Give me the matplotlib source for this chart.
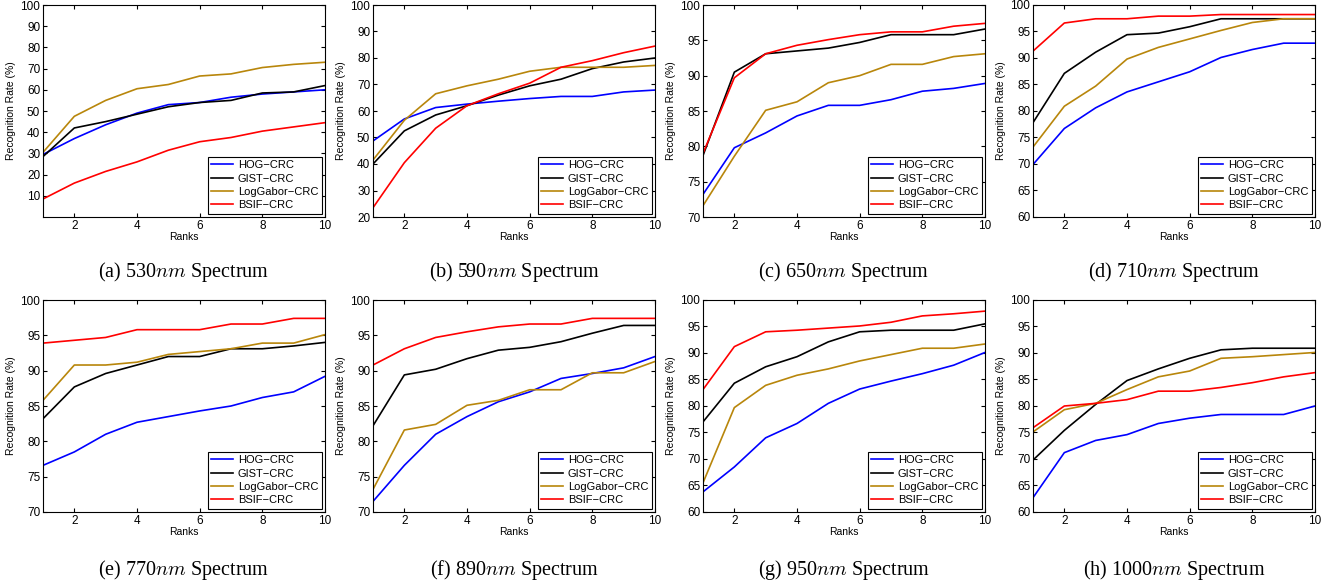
#!/usr/bin/env python3
"""CMC curves (recognition rate vs rank) for eight spectral bands."""
import matplotlib
matplotlib.use("Agg")
import matplotlib.pyplot as plt

plt.rcParams.update({
    "font.family": "Liberation Sans", "font.size": 8.5,
    "xtick.direction": "in", "ytick.direction": "in",
    "xtick.top": True, "ytick.right": True,
    "xtick.major.size": 3, "ytick.major.size": 3,
    "axes.linewidth": 0.8, "mathtext.fontset": "cm",
})

ranks = [1, 2, 3, 4, 5, 6, 7, 8, 9, 10]
methods = ["HOG\u2212CRC", "GIST\u2212CRC", "LogGabor\u2212CRC", "BSIF\u2212CRC"]
colors = ["#0000ff", "#000000", "#b8860b", "#ff0000"]

captions = ["(a) 530$nm$ Spectrum", "(b) 590$nm$ Spectrum", "(c) 650$nm$ Spectrum",
            "(d) 710$nm$ Spectrum", "(e) 770$nm$ Spectrum", "(f) 890$nm$ Spectrum",
            "(g) 950$nm$ Spectrum", "(h) 1000$nm$ Spectrum"]
ylims = [(0, 100), (20, 100), (70, 100), (60, 100),
         (70, 100), (70, 100), (60, 100), (60, 100)]
ysteps = [10, 10, 5, 5, 5, 5, 5, 5]

# one list per method, per spectrum
hog_530 = [29.5, 37, 43.5, 49, 53, 54, 56.5, 58, 59, 60]
gist_530 = [28.5, 42, 45, 48.5, 52, 54, 55, 58.5, 59, 62]
lg_530 = [30.5, 47.5, 55, 60.5, 62.5, 66.5, 67.5, 70.5, 72, 73]
bsif_530 = [8.5, 16, 21.5, 26, 31.5, 35.5, 37.5, 40.5, 42.5, 44.5]

hog_590 = [48.7, 57, 61.3, 62.6, 63.7, 64.7, 65.5, 65.5, 67.2, 67.9]
gist_590 = [40, 52.5, 58.5, 62, 66, 69.5, 72, 76, 78.5, 80]
lg_590 = [41.5, 56.5, 66.5, 69.5, 72, 75, 76.5, 76.5, 76.5, 77.2]
bsif_590 = [23.5, 40.5, 53.5, 62, 66.5, 70.5, 76.5, 79, 82, 84.5]

hog_650 = [73.2, 79.8, 81.9, 84.3, 85.8, 85.8, 86.6, 87.8, 88.2, 88.9]
gist_650 = [78.7, 90.5, 93.1, 93.5, 93.9, 94.7, 95.8, 95.8, 95.8, 96.6]
lg_650 = [71.6, 78.6, 85.1, 86.3, 89.0, 90.0, 91.6, 91.6, 92.7, 93.1]
bsif_650 = [79.0, 89.7, 93.1, 94.3, 95.1, 95.8, 96.2, 96.2, 97.0, 97.4]

hog_710 = [69.9, 76.7, 80.6, 83.6, 85.5, 87.4, 90.1, 91.6, 92.8, 92.8]
gist_710 = [77.8, 87.1, 91.1, 94.4, 94.7, 95.9, 97.4, 97.4, 97.4, 97.4]
lg_710 = [73.2, 80.9, 84.7, 89.8, 92.0, 93.6, 95.2, 96.7, 97.4, 97.4]
bsif_710 = [91.3, 96.6, 97.4, 97.4, 97.9, 97.9, 98.2, 98.2, 98.2, 98.2]

hog_770 = [76.6, 78.5, 81.0, 82.7, 83.5, 84.3, 85.0, 86.2, 87.0, 89.2]
gist_770 = [83.2, 87.7, 89.6, 90.8, 92.0, 92.0, 93.1, 93.1, 93.5, 94.0]
lg_770 = [85.8, 90.8, 90.8, 91.2, 92.3, 92.7, 93.1, 93.9, 93.9, 95.1]
bsif_770 = [93.9, 94.3, 94.7, 95.8, 95.8, 95.8, 96.6, 96.6, 97.4, 97.4]

hog_890 = [71.5, 76.6, 81.0, 83.5, 85.6, 87.0, 88.9, 89.6, 90.4, 92.0]
gist_890 = [82.2, 89.4, 90.2, 91.7, 92.9, 93.3, 94.1, 95.3, 96.4, 96.4]
lg_890 = [73.2, 81.6, 82.4, 85.1, 85.8, 87.3, 87.3, 89.7, 89.7, 91.3]
bsif_890 = [90.8, 93.1, 94.7, 95.5, 96.2, 96.6, 96.6, 97.4, 97.4, 97.4]

hog_950 = [63.8, 68.5, 74.0, 76.7, 80.5, 83.2, 84.7, 86.1, 87.7, 90.1]
gist_950 = [77.0, 84.3, 87.4, 89.3, 92.1, 94.0, 94.3, 94.3, 94.3, 95.5]
lg_950 = [65.5, 79.7, 83.9, 85.8, 87.0, 88.5, 89.7, 90.9, 90.9, 91.7]
bsif_950 = [83.1, 91.2, 94.0, 94.3, 94.7, 95.1, 95.8, 97.0, 97.4, 97.9]

hog_1000 = [62.7, 71.2, 73.5, 74.6, 76.7, 77.7, 78.4, 78.4, 78.4, 80.0]
gist_1000 = [69.8, 75.4, 80.3, 84.8, 87.0, 89.0, 90.6, 90.9, 90.9, 90.9]
lg_1000 = [75.1, 79.3, 80.5, 83.1, 85.5, 86.6, 89.0, 89.3, 89.7, 90.1]
bsif_1000 = [75.9, 80.0, 80.5, 81.2, 82.8, 82.8, 83.5, 84.4, 85.5, 86.3]

panels = [
    [hog_530, gist_530, lg_530, bsif_530],
    [hog_590, gist_590, lg_590, bsif_590],
    [hog_650, gist_650, lg_650, bsif_650],
    [hog_710, gist_710, lg_710, bsif_710],
    [hog_770, gist_770, lg_770, bsif_770],
    [hog_890, gist_890, lg_890, bsif_890],
    [hog_950, gist_950, lg_950, bsif_950],
    [hog_1000, gist_1000, lg_1000, bsif_1000],
]

W, H = 1330, 588
fig = plt.figure(figsize=(W / 100, H / 100), dpi=100)

col_left = [43, 373, 703, 1033]
ax_w, ax_h = 282, 212
row_top = [5, 300]
cap_off = [267, 270]

for i, series in enumerate(panels):
    r, c = divmod(i, 4)
    left = col_left[c] / W
    bottom = 1 - (row_top[r] + ax_h) / H
    ax = fig.add_axes([left, bottom, ax_w / W, ax_h / H])
    for vals, name, col in zip(series, methods, colors):
        ax.plot(ranks, vals, color=col, lw=1.2, label=name)
    lo, hi = ylims[i]
    ax.set_xlim(1, 10)
    ax.set_ylim(lo, hi)
    ax.set_xticks([2, 4, 6, 8, 10])
    first = lo if lo > 0 else ysteps[i]
    ax.set_yticks(range(first, hi + 1, ysteps[i]))
    ax.tick_params(labelsize=8.5, pad=2)
    ax.set_xlabel("Ranks", fontsize=7.5, labelpad=0)
    ax.set_ylabel("Recognition Rate (%)", fontsize=7.5, labelpad=3)
    leg = ax.legend(loc="lower right", fontsize=8, fancybox=False,
                    edgecolor="black", framealpha=1, handlelength=2.0,
                    borderpad=0.3, labelspacing=0.3, handletextpad=0.4,
                    borderaxespad=0.3)
    leg.get_frame().set_linewidth(0.8)
    cx = left + ax_w / W / 2
    cy = 1 - (row_top[r] + cap_off[r]) / H
    fig.text(cx, cy, captions[i], ha="center", va="center",
             fontsize=14.5, family="Liberation Serif")

fig.savefig("out.png", dpi=100)
